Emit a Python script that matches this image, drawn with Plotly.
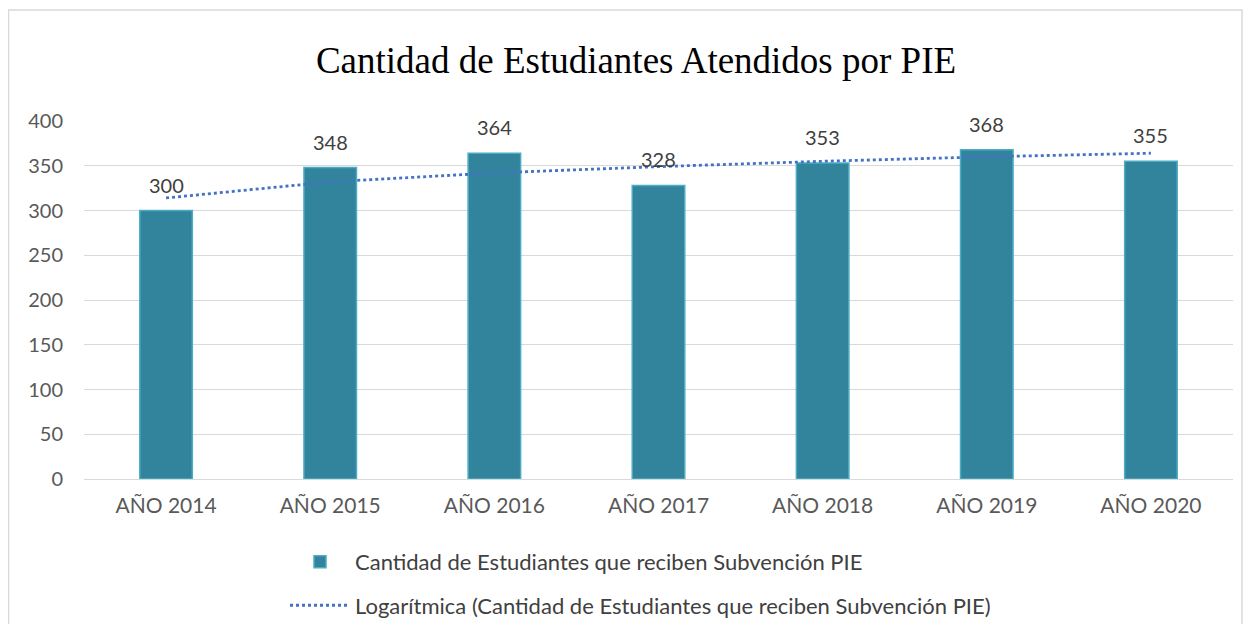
import plotly.graph_objects as go

categories = ["AÑO 2014", "AÑO 2015", "AÑO 2016", "AÑO 2017", "AÑO 2018", "AÑO 2019", "AÑO 2020"]
students = [300, 348, 364, 328, 353, 368, 355]
trend_log = [314, 332, 342, 349, 355, 360, 364]
y_ticks = [0, 50, 100, 150, 200, 250, 300, 350, 400]

# page body has an 8px margin, so figure coords = screen coords - 8
W, H = 1235, 616
L, R, T, B = 76, 10, 113, 145
FONT = "Lato, Open Sans, sans-serif"

fig = go.Figure()
fig.add_trace(go.Bar(
    x=categories, y=students,
    name="Cantidad de Estudiantes que reciben Subvención PIE",
    marker=dict(color="#31849B", line=dict(color="#4BACC6", width=1.5)),
    width=0.32,
    legendgroup="a",
))
fig.add_trace(go.Scatter(
    x=categories, y=trend_log, mode="lines",
    name="Logarítmica (Cantidad de Estudiantes que reciben Subvención PIE)",
    line=dict(color="#4472C4", width=2.8, dash="dot"),
    legendgroup="b",
))

for c, v in zip(categories, students):
    fig.add_annotation(x=c, y=v, text=str(v), showarrow=False, yanchor="bottom",
                       yshift=12, font=dict(family=FONT, size=20, color="#404040"))

pw = W - L - R
ph = H - T - B
fig.add_shape(type="rect", xref="paper", yref="paper",
              x0=(0.5 - L) / pw, x1=(1234 - L) / pw,
              y0=(H - 660 - B) / ph, y1=(H - 2 - B) / ph,
              line=dict(color="#D9D9D9", width=1.5), fillcolor="rgba(0,0,0,0)", layer="below")

fig.update_layout(
    width=W, height=H,
    margin=dict(l=L, r=R, t=T, b=B, autoexpand=False),
    paper_bgcolor="white", plot_bgcolor="white",
    title=dict(text="Cantidad de Estudiantes Atendidos por PIE",
               x=628 / W, xref="container", xanchor="center", y=1 - 52 / H, yanchor="middle",
               font=dict(family="Liberation Serif, DejaVu Serif, serif", size=37, color="#000000")),
    bargap=0.68,
    showlegend=True,
    legend=dict(orientation="v", x=(277 - L) / pw, xanchor="left", y=-0.17 - 1 / ph, yanchor="top",
                font=dict(family=FONT, size=22, color="#404040"),
                tracegroupgap=12, itemwidth=60, bgcolor="rgba(0,0,0,0)"),
    xaxis=dict(tickfont=dict(family=FONT, size=21, color="#595959"),
               showline=True, linecolor="#D9D9D9", linewidth=1, ticks="", showgrid=False,
               ticklabelstandoff=8, automargin=False),
    yaxis=dict(range=[0, 400], tickvals=y_ticks, showgrid=True, gridcolor="#D9D9D9", gridwidth=1,
               zeroline=False, showline=False, ticks="",
               tickfont=dict(family=FONT, size=20, color="#595959"),
               ticklabelstandoff=20, automargin=False),
    font=dict(family=FONT),
)
fig.write_html("out.html")
